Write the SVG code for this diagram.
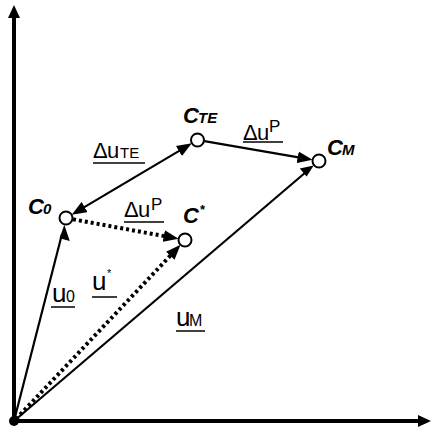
<svg xmlns="http://www.w3.org/2000/svg" width="432" height="431" viewBox="0 0 432 431">
<style>
.ax{stroke:#000;stroke-width:4;fill:none}
.sol{stroke:#000;stroke-width:2.2;fill:none}
.dot{stroke:#000;stroke-width:4;stroke-dasharray:3 3;fill:none}
.nd{fill:#fff;stroke:#000;stroke-width:2}
.ul{stroke:#000;stroke-width:1.5}
.lb{font-family:"Liberation Sans",Arial,sans-serif;fill:#000}
.cl{font-family:"Liberation Sans",Arial,sans-serif;font-weight:bold;font-style:italic;fill:#000}
</style>
<defs>
<marker id="ah" markerUnits="userSpaceOnUse" markerWidth="15" markerHeight="12" viewBox="0 0 14 11" refX="9" refY="5.5" orient="auto-start-reverse">
<path d="M0,0 L14,5.5 L0,11 z" fill="#000"/>
</marker>
<marker id="ahd" markerUnits="userSpaceOnUse" markerWidth="15" markerHeight="12" viewBox="0 0 14 11" refX="7" refY="5.5" orient="auto">
<path d="M0,0 L14,5.5 L0,11 z" fill="#000"/>
</marker>
</defs>
<g id="axes">
<line class="ax" x1="14" y1="421" x2="14" y2="16"/>
<path d="M14,5 L8,18 L20,18 z" fill="#000"/>
<line class="ax" x1="14" y1="421" x2="420" y2="421"/>
<path d="M431,421 L418,415 L418,427 z" fill="#000"/>
<circle cx="14" cy="421" r="5" fill="#000"/>
</g>
<g id="connectors">
<line id="e-u0" class="sol" x1="14" y1="421" x2="62" y2="234"/>
<path d="M64.3,224.8 L59.6,238.3 L69.8,240.9 z" fill="#000"/>
<line id="e-um" class="sol" x1="14" y1="421" x2="306" y2="172"/>
<path d="M313.7,165.5 L299.8,168.5 L306.6,176.5 z" fill="#000"/>
<line id="e-ustar" class="dot" x1="16" y1="419" x2="175.4" y2="250.3" marker-end="url(#ahd)"/>
<line id="e-dute" class="sol" x1="76.3" y1="211.9" x2="187.2" y2="146.1" marker-start="url(#ah)" marker-end="url(#ah)"/>
<line id="e-dup1" class="sol" x1="204.4" y1="141.2" x2="307.2" y2="158.9" marker-end="url(#ah)"/>
<line id="e-dup2" class="dot" x1="73" y1="219.3" x2="171.2" y2="237.4" marker-end="url(#ahd)"/>
</g>
<g id="n-c0">
<circle class="nd" cx="66" cy="218" r="6.5"/>
<text class="cl" x="28" y="214" font-size="22">C<tspan x="43" font-size="15">0</tspan></text>
</g>
<g id="n-cte">
<circle class="nd" cx="197.5" cy="140" r="6.5"/>
<text class="cl" x="183" y="123" font-size="22">C<tspan x="198" font-size="15">TE</tspan></text>
</g>
<g id="n-cm">
<circle class="nd" cx="319" cy="161" r="6.5"/>
<text class="cl" x="327" y="155" font-size="22">C<tspan x="342" font-size="15">M</tspan></text>
</g>
<g id="n-cstar">
<circle class="nd" cx="185" cy="240" r="6.5"/>
<text class="cl" x="183" y="223" font-size="22">C</text>
<text class="cl" x="199.5" y="214" font-size="13">*</text>
</g>
<g id="labels">
<text class="lb" x="93" y="158" font-size="22">Δ<tspan x="107">u</tspan><tspan x="120" font-size="15">TE</tspan></text>
<line class="ul" x1="93" y1="163" x2="145" y2="163"/>
<text class="lb" x="243" y="140" font-size="22">Δ<tspan x="257">u</tspan><tspan x="269" y="132" font-size="17">P</tspan></text>
<line class="ul" x1="243" y1="142" x2="283" y2="142"/>
<text class="lb" x="124" y="217" font-size="22">Δ<tspan x="138">u</tspan><tspan x="151" y="210" font-size="17">P</tspan></text>
<line class="ul" x1="124" y1="222" x2="164" y2="222"/>
<text class="lb" x="52" y="302" font-size="26">u<tspan x="66" font-size="16">0</tspan></text>
<line class="ul" x1="51" y1="307" x2="75" y2="307"/>
<text class="lb" x="92" y="290" font-size="26">u<tspan x="107" y="277" font-size="11">*</tspan></text>
<line class="ul" x1="92" y1="297" x2="117" y2="297"/>
<text class="lb" x="176" y="326" font-size="26">u<tspan x="189" font-size="16">M</tspan></text>
<line class="ul" x1="176" y1="331" x2="205" y2="331"/>
</g>
</svg>
